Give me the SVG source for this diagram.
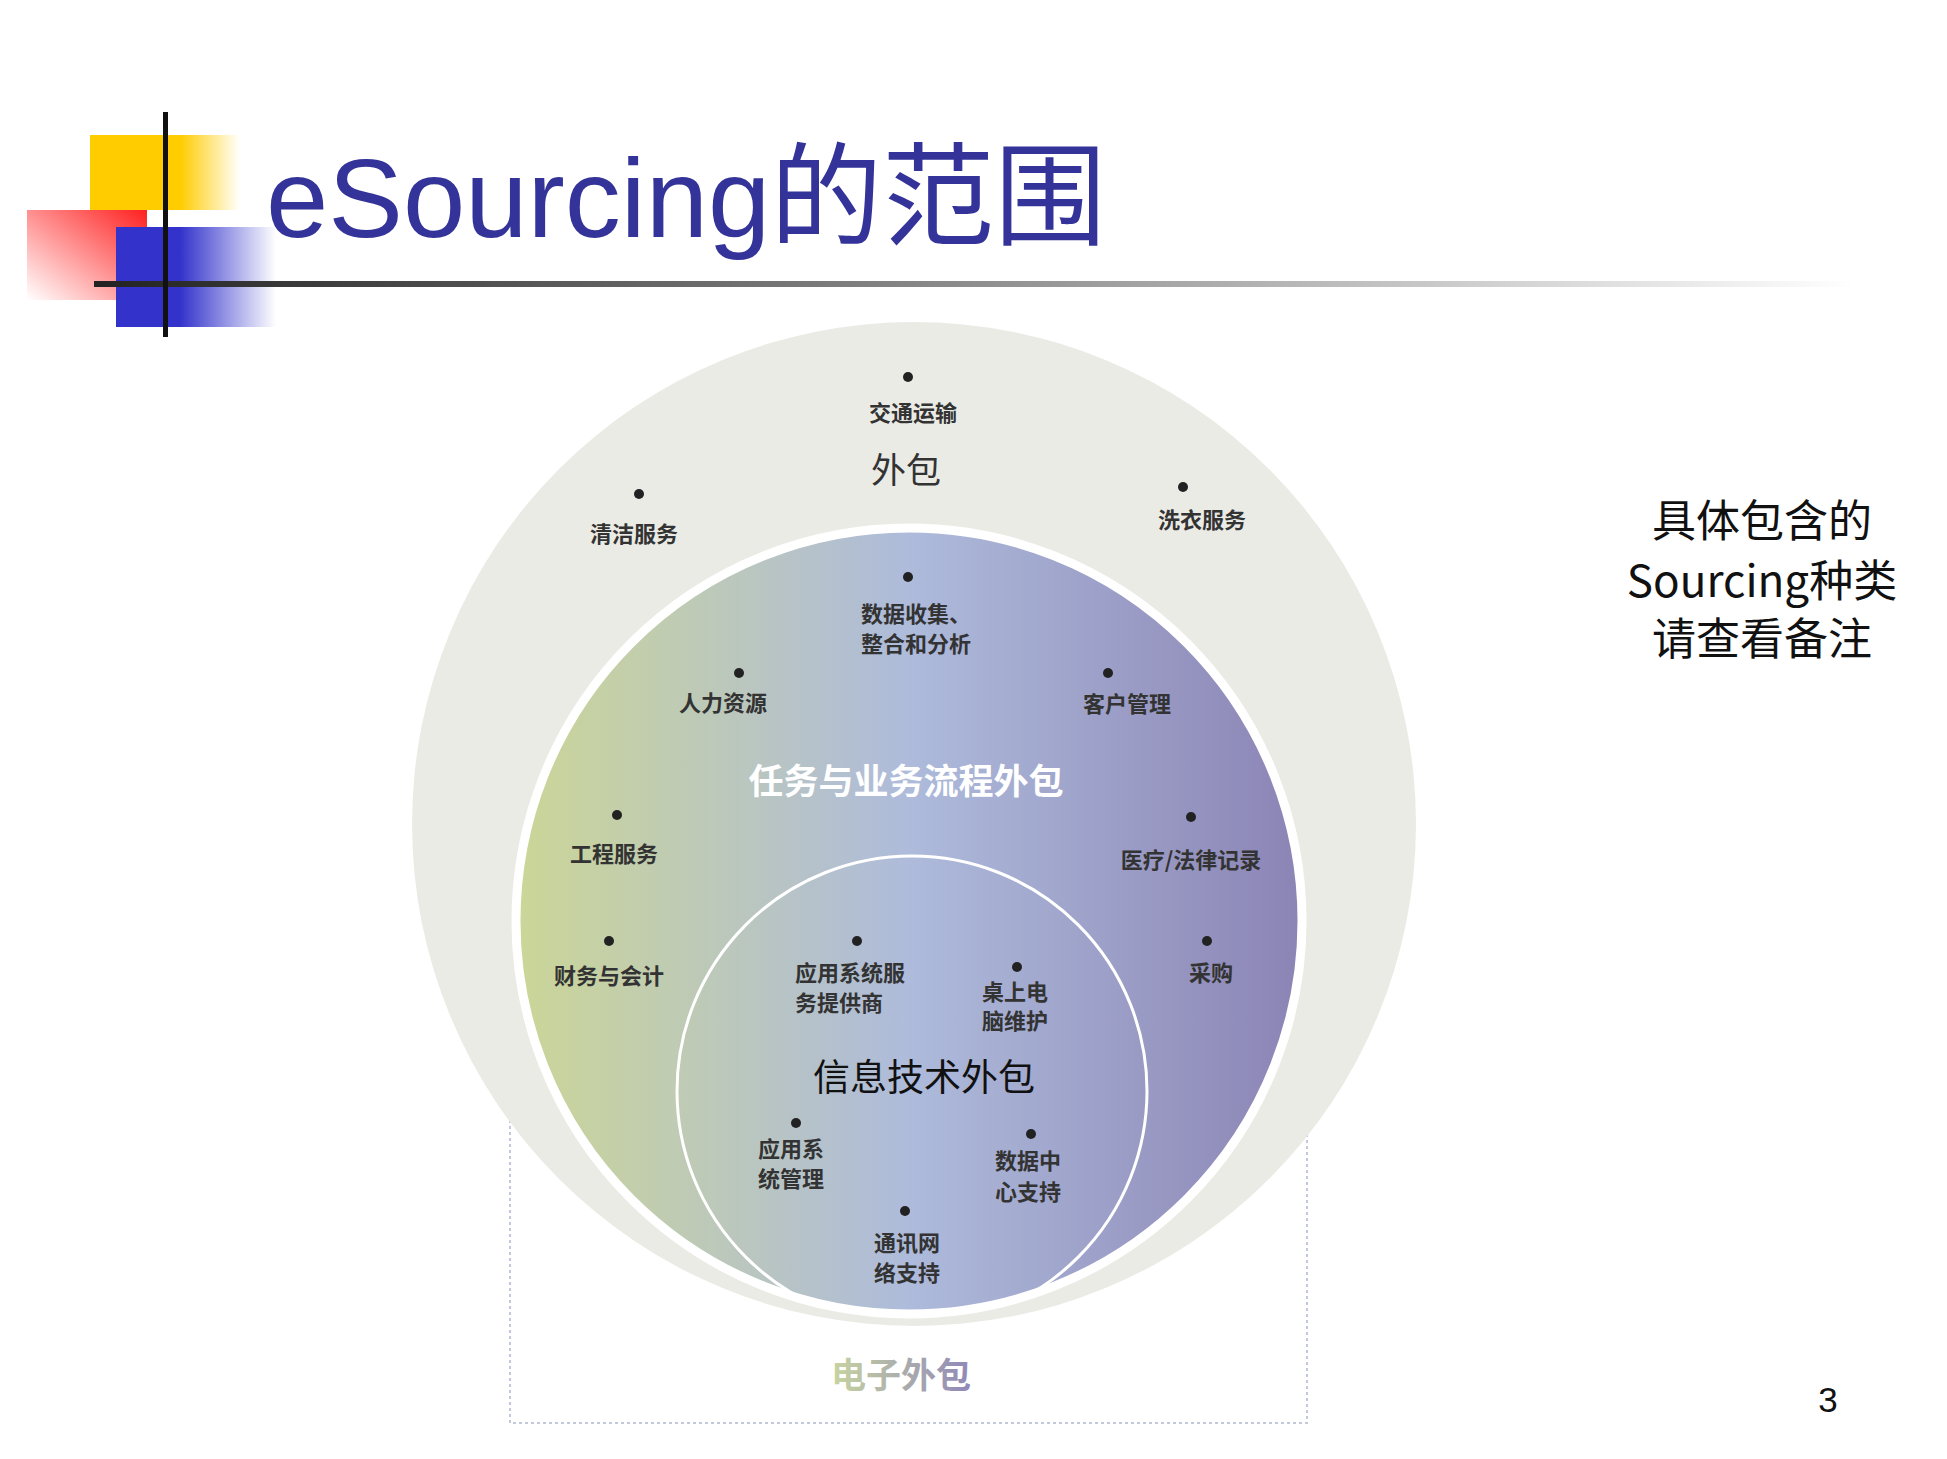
<svg xmlns="http://www.w3.org/2000/svg" width="1947" height="1459" viewBox="0 0 1947 1459">
<defs>
<linearGradient id="mid" x1="0" y1="0" x2="1" y2="0">
<stop offset="0" stop-color="#cbd697"/><stop offset="0.5" stop-color="#aebbdb"/><stop offset="1" stop-color="#8b84b5"/>
</linearGradient>
<linearGradient id="hl" x1="0" y1="0" x2="1" y2="0">
<stop offset="0" stop-color="#222"/><stop offset="0.4" stop-color="#777"/><stop offset="1" stop-color="#fff"/>
</linearGradient>
<linearGradient id="red" x1="1" y1="0" x2="0" y2="1">
<stop offset="0" stop-color="#ff2020"/><stop offset="1" stop-color="#fff"/>
</linearGradient>
<linearGradient id="blue" x1="0" y1="0" x2="1" y2="0">
<stop offset="0.4" stop-color="#3333cc"/><stop offset="1" stop-color="#fff"/>
</linearGradient>
<linearGradient id="yel" x1="0" y1="0" x2="1" y2="0">
<stop offset="0.6" stop-color="#ffcc00"/><stop offset="1" stop-color="#fff"/>
</linearGradient>
<linearGradient id="ez" x1="0" y1="0" x2="1" y2="0">
<stop offset="0" stop-color="#c8d4a0"/><stop offset="1" stop-color="#9088b8"/>
</linearGradient>
<clipPath id="mc"><circle cx="909" cy="921" r="393"/></clipPath>
<style>
.l{font-family:"Noto Sans CJK SC",sans-serif;font-size:22px;fill:#333;font-weight:bold}
.c{text-anchor:middle}
.d{fill:#222}
</style>
</defs>
<g id="decor">
<rect x="90" y="135" width="150" height="75" fill="url(#yel)"/>
<rect x="27" y="210" width="120" height="90" fill="url(#red)"/>
<rect x="116" y="227" width="160" height="100" fill="url(#blue)"/>
<rect x="94" y="281" width="1760" height="6" fill="url(#hl)"/>
<rect x="163" y="112" width="5" height="225" fill="#111"/>
</g>
<text x="266" y="237" font-family="Liberation Sans,Noto Sans CJK SC,sans-serif" font-size="112" fill="#333399">eSourcing的范围</text>
<g id="note" font-family="Noto Sans CJK SC,sans-serif" font-size="44" fill="#111" text-anchor="middle">
<text x="1762" y="537">具体包含的</text>
<text x="1762" y="597">Sourcing种类</text>
<text x="1762" y="655">请查看备注</text>
</g>
<text x="1828" y="1412" font-family="Liberation Sans,sans-serif" font-size="35" fill="#111" text-anchor="middle">3</text>
<g id="ebox"><rect x="510" y="1085" width="797" height="338" fill="none" stroke="#c4c8dc" stroke-width="2" stroke-dasharray="3,3"/></g>
<g id="outer"><circle cx="914" cy="824" r="502" fill="#ebebe6"/></g>
<g id="middle"><circle cx="909" cy="921" r="393" fill="url(#mid)" stroke="#fff" stroke-width="9"/></g>
<g id="inner" clip-path="url(#mc)"><circle cx="912" cy="1091" r="235" fill="none" stroke="#fff" stroke-width="3"/></g>
<g id="labels">
<circle class="d" cx="908" cy="377" r="5"/><text class="l c" x="913" y="421">交通运输</text>
<text class="l c" x="906" y="483" style="font-size:35px;font-weight:normal">外包</text>
<circle class="d" cx="639" cy="494" r="5"/><text class="l c" x="634" y="542">清洁服务</text>
<circle class="d" cx="1183" cy="487" r="5"/><text class="l c" x="1202" y="528">洗衣服务</text>
<circle class="d" cx="908" cy="577" r="5"/><text class="l" x="861" y="622">数据收集、</text><text class="l" x="861" y="652">整合和分析</text>
<circle class="d" cx="739" cy="673" r="5"/><text class="l c" x="723" y="711">人力资源</text>
<circle class="d" cx="1108" cy="673" r="5"/><text class="l c" x="1127" y="712">客户管理</text>
<text class="l c" x="906" y="794" style="font-size:35px;fill:#fff">任务与业务流程外包</text>
<circle class="d" cx="617" cy="815" r="5"/><text class="l c" x="614" y="862">工程服务</text>
<circle class="d" cx="1191" cy="817" r="5"/><text class="l c" x="1191" y="868">医疗/法律记录</text>
<circle class="d" cx="609" cy="941" r="5"/><text class="l c" x="609" y="984">财务与会计</text>
<circle class="d" cx="1207" cy="941" r="5"/><text class="l c" x="1211" y="981">采购</text>
<circle class="d" cx="857" cy="941" r="5"/><text class="l" x="795" y="981">应用系统服</text><text class="l" x="795" y="1011">务提供商</text>
<circle class="d" cx="1017" cy="967" r="5"/><text class="l" x="982" y="1000">桌上电</text><text class="l" x="982" y="1029">脑维护</text>
<text class="l c" x="924" y="1091" style="font-size:37px;fill:#111;font-weight:normal">信息技术外包</text>
<circle class="d" cx="796" cy="1123" r="5"/><text class="l" x="758" y="1157">应用系</text><text class="l" x="758" y="1187">统管理</text>
<circle class="d" cx="1031" cy="1134" r="5"/><text class="l" x="995" y="1169">数据中</text><text class="l" x="995" y="1200">心支持</text>
<circle class="d" cx="905" cy="1211" r="5"/><text class="l" x="874" y="1251">通讯网</text><text class="l" x="874" y="1281">络支持</text>
<text class="l c" x="901" y="1388" style="font-size:35px;fill:url(#ez)">电子外包</text>
</g>
</svg>
